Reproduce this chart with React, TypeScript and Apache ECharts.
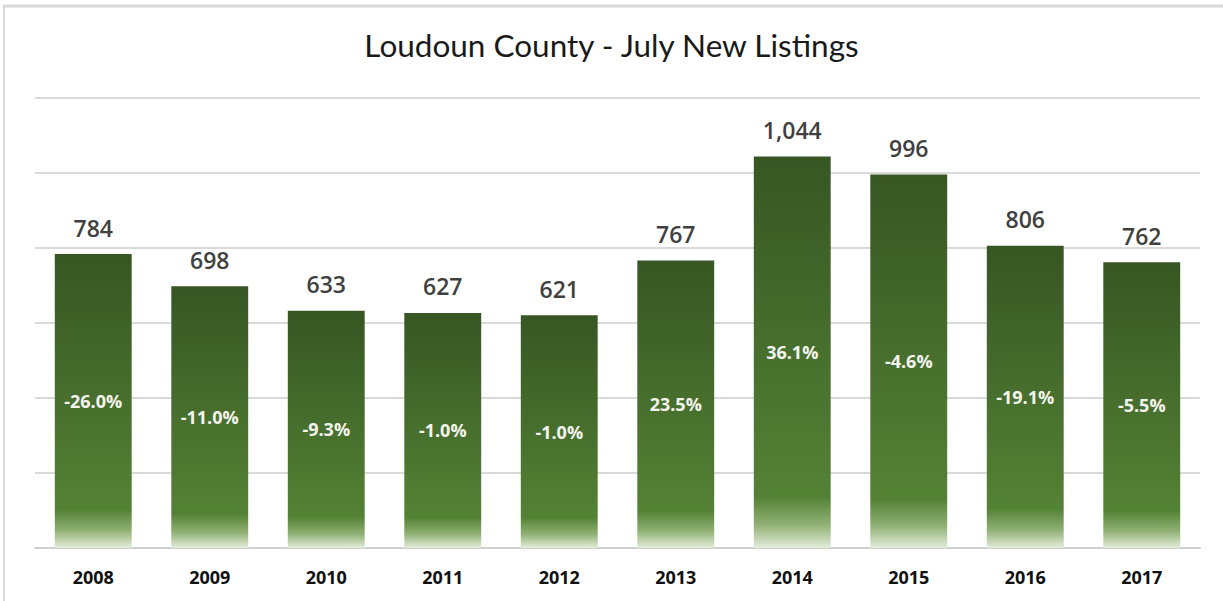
import React, { useEffect, useRef } from "react";
import * as echarts from "echarts";

const years = ["2008", "2009", "2010", "2011", "2012", "2013", "2014", "2015", "2016", "2017"];
const listings = [784, 698, 633, 627, 621, 767, 1044, 996, 806, 762];
const changes = ["-26.0%", "-11.0%", "-9.3%", "-1.0%", "-1.0%", "23.5%", "36.1%", "-4.6%", "-19.1%", "-5.5%"];

export default function App() {
  const ref = useRef<HTMLDivElement>(null);
  useEffect(() => {
    const chart = echarts.init(ref.current!, null, { renderer: "svg" });
    const grad = new echarts.graphic.LinearGradient(0, 0, 0, 1, [
      { offset: 0, color: "#375623" },
      { offset: 0.87, color: "#548235" },
      { offset: 0.94, color: "#8fb073" },
      { offset: 1, color: "#e4eddb" },
    ]);
    chart.setOption({
      animation: false,
      backgroundColor: "#ffffff",
      title: {
        text: "Loudoun County - July New Listings",
        left: "center",
        top: 24,
        textStyle: { fontFamily: "Lato", fontSize: 31.5, fontWeight: "normal", color: "#1a1a1a" },
      },
      graphic: [
        { type: "line", shape: { x1: 3, y1: 6, x2: 1223, y2: 6 }, style: { stroke: "#d9d9d9", lineWidth: 3 } },
        { type: "line", shape: { x1: 4, y1: 6, x2: 4, y2: 601 }, style: { stroke: "#d9d9d9", lineWidth: 2 } },
      ],
      grid: { left: 35, right: 23, top: 98, bottom: 53 },
      xAxis: {
        type: "category",
        data: years,
        axisTick: { show: false },
        axisLine: { lineStyle: { color: "#d0d0d0", width: 2 } },
        axisLabel: { margin: 20, fontFamily: "Open Sans", fontWeight: "bold", fontSize: 18, color: "#111" },
      },
      yAxis: {
        type: "value",
        min: 0,
        max: 1200,
        interval: 200,
        axisLabel: { show: false },
        axisLine: { show: false },
        axisTick: { show: false },
        splitLine: { lineStyle: { color: "#d9d9d9", width: 2 } },
      },
      series: [
        {
          type: "bar",
          data: listings,
          barWidth: "66%",
          itemStyle: { color: grad },
          label: {
            show: true,
            position: "top",
            distance: 15,
            fontFamily: "Open Sans",
            fontSize: 23,
            fontWeight: 600,
            color: "#404040",
            formatter: (p: any) => p.value.toLocaleString("en-US"),
          },
        },
        {
          type: "bar",
          data: listings,
          barWidth: "66%",
          barGap: "-100%",
          itemStyle: { color: "transparent" },
          label: {
            show: true,
            position: "inside",
            fontFamily: "Open Sans",
            fontSize: 18,
            fontWeight: "bold",
            color: "#f4f4ee",
            formatter: (p: any) => changes[p.dataIndex],
          },
          silent: true,
        },
      ],
    });
    return () => chart.dispose();
  }, []);
  return <div ref={ref} style={{ position: "fixed", left: 0, top: 0, width: 1223, height: 601 }} />;
}
